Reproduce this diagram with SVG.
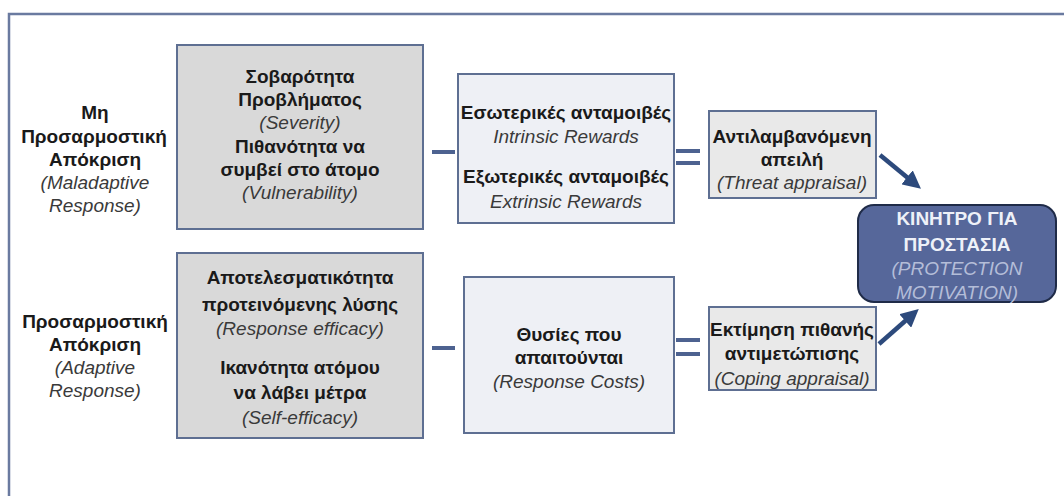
<svg xmlns="http://www.w3.org/2000/svg" width="1064" height="496" viewBox="0 0 1064 496">
<defs>
<style>
.t{font-family:"Liberation Sans","DejaVu Sans",sans-serif;font-size:19px;text-anchor:middle}
.b{font-weight:bold;fill:#1a1a1a}
.i{font-style:italic;fill:#3a3a3a}
.gray{fill:#d9d9d9;stroke:#5e6f92;stroke-width:2}
.light{fill:#eef0f5;stroke:#5e6f92;stroke-width:2}
.tex{fill:#e9e9e9;stroke:#5e6f92;stroke-width:2}
.bar{fill:#4d6290}
.wb{font-weight:bold;fill:#eef1f8}
.wi{font-style:italic;fill:#b4bdd8}
</style>
<marker id="ah" markerWidth="4" markerHeight="4" refX="2" refY="2" orient="auto" markerUnits="strokeWidth">
<path d="M0,0 L4,2 L0,4 z" fill="#2d4a7c"/>
</marker>
</defs>
<rect x="0" y="0" width="1064" height="496" fill="#ffffff"/>
<path d="M9,510 V14 H1070" fill="none" stroke="#6a7aa0" stroke-width="2.5"/>

<g id="maladaptive">
<text class="t b" x="95" y="119">Μη</text>
<text class="t b" x="94" y="143">Προσαρμοστική</text>
<text class="t b" x="95" y="166">Απόκριση</text>
<text class="t i" x="95" y="189">(Maladaptive</text>
<text class="t i" x="95" y="212">Response)</text>
</g>

<g id="adaptive">
<text class="t b" x="95" y="328">Προσαρμοστική</text>
<text class="t b" x="95" y="351">Απόκριση</text>
<text class="t i" x="95" y="374">(Adaptive</text>
<text class="t i" x="95" y="397">Response)</text>
</g>

<g id="threat-factors">
<rect class="gray" x="177" y="45" width="246" height="184"/>
<text class="t b" x="300" y="83">Σοβαρότητα</text>
<text class="t b" x="300" y="106">Προβλήματος</text>
<text class="t i" x="300" y="129">(Severity)</text>
<text class="t b" x="300" y="153">Πιθανότητα να</text>
<text class="t b" x="300" y="176">συμβεί στο άτομο</text>
<text class="t i" x="300" y="199">(Vulnerability)</text>
</g>

<g id="coping-factors">
<rect class="gray" x="177" y="253" width="246" height="185"/>
<text class="t b" x="300" y="284">Αποτελεσματικότητα</text>
<text class="t b" x="300" y="311">προτεινόμενης λύσης</text>
<text class="t i" x="300" y="335">(Response efficacy)</text>
<text class="t b" x="300" y="374">Ικανότητα ατόμου</text>
<text class="t b" x="300" y="399">να λάβει μέτρα</text>
<text class="t i" x="300" y="424">(Self-efficacy)</text>
</g>

<g id="rewards">
<rect class="light" x="458" y="74" width="216" height="149"/>
<text class="t b" x="566" y="119">Εσωτερικές ανταμοιβές</text>
<text class="t i" x="566" y="143">Intrinsic Rewards</text>
<text class="t b" x="566" y="183">Εξωτερικές ανταμοιβές</text>
<text class="t i" x="566" y="208">Extrinsic Rewards</text>
</g>

<g id="costs">
<rect class="light" x="464" y="277" width="210" height="156"/>
<text class="t b" x="569" y="341">Θυσίες που</text>
<text class="t b" x="569" y="364">απαιτούνται</text>
<text class="t i" x="569" y="388">(Response Costs)</text>
</g>

<g id="threat-appraisal">
<rect class="tex" x="709" y="111" width="167" height="87"/>
<text class="t b" x="792" y="143">Αντιλαμβανόμενη</text>
<text class="t b" x="792" y="166">απειλή</text>
<text class="t i" x="792" y="189">(Threat appraisal)</text>
</g>

<g id="coping-appraisal">
<rect class="tex" x="709" y="307" width="167" height="83"/>
<text class="t b" x="792" y="336">Εκτίμηση πιθανής</text>
<text class="t b" x="792" y="360">αντιμετώπισης</text>
<text class="t i" x="792" y="385">(Coping appraisal)</text>
</g>

<g id="protection-motivation">
<rect x="858" y="205" width="198" height="97" rx="16" fill="#56679a" stroke="#1f2b48" stroke-width="2"/>
<text class="t wb" x="957" y="225">ΚΙΝΗΤΡΟ ΓΙΑ</text>
<text class="t wb" x="957" y="251">ΠΡΟΣΤΑΣΙΑ</text>
<text class="t wi" x="957" y="275">(PROTECTION</text>
<text class="t wi" x="957" y="299">MOTIVATION)</text>
</g>

<g id="connectors">
<rect class="bar" x="432" y="150" width="23" height="4"/>
<rect class="bar" x="676" y="149" width="24" height="4"/>
<rect class="bar" x="676" y="161" width="24" height="4"/>
<rect class="bar" x="432" y="346" width="23" height="4"/>
<rect class="bar" x="676" y="338" width="24" height="4"/>
<rect class="bar" x="676" y="352" width="24" height="4"/>
<line x1="880" y1="155" x2="914" y2="183" stroke="#2d4a7c" stroke-width="4.5" marker-end="url(#ah)"/>
<line x1="879" y1="344" x2="912" y2="315" stroke="#2d4a7c" stroke-width="4.5" marker-end="url(#ah)"/>
</g>
</svg>
